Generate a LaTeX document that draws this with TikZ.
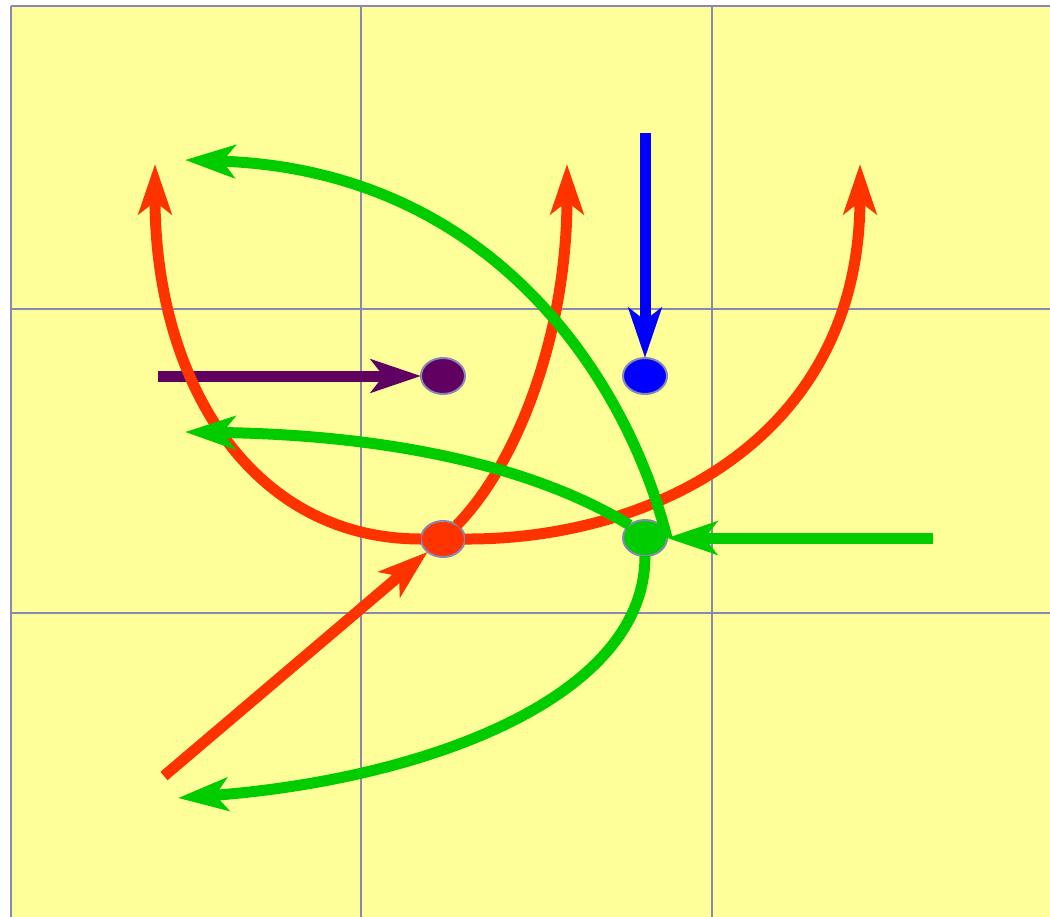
\documentclass[tikz,border=0pt]{standalone}
\usetikzlibrary{arrows.meta,shapes.geometric}
\definecolor{bgyellow}{RGB}{255,255,153}
\definecolor{gridc}{RGB}{136,136,180}
\definecolor{myred}{RGB}{255,51,0}
\definecolor{mygreen}{RGB}{0,204,0}
\definecolor{mypurple}{RGB}{96,0,96}
\definecolor{myblue}{RGB}{0,0,255}
\begin{document}
\begin{tikzpicture}[x=0.02cm,y=-0.02cm,
  dot/.style={ellipse, minimum width=0.88cm, minimum height=0.72cm, inner sep=0pt, outer sep=0pt, draw=gridc, line width=0.04cm},
  gridline/.style={draw=gridc, line width=0.05cm},
  fatarrow/.style={line width=0.22cm, -{Stealth[length=1cm,width=0.66cm,inset=0.25cm]}}]
\useasboundingbox (0,0) rectangle (1050,916);
\clip (0,0) rectangle (1050,916);
\fill[bgyellow] (11,6) rectangle (1060,930);
\foreach \gx in {11,361,712} \draw[gridline] (\gx,6) -- (\gx,930);
\foreach \gy in {6,309,613} \draw[gridline] (11,\gy) -- (1060,\gy);
% nodes
\node[dot, fill=mypurple] (p) at (443,376) {};
\node[dot, fill=myblue] (b) at (645,376) {};
\node[dot, fill=myred] (r) at (443,539) {};
\node[dot, fill=mygreen] (g) at (645,538) {};
% free ends
\coordinate (ps) at (158,376);
\coordinate (bs) at (645,133);
\coordinate (gs) at (933,538);
\coordinate (rs) at (164,776);
\coordinate (r1) at (155,164);
\coordinate (r2) at (567,164);
\coordinate (r3) at (860,164);
\coordinate (g1) at (185,160);
\coordinate (g2) at (185,432);
\coordinate (g3) at (178,798);
% straight arrows
\draw[fatarrow, mypurple] (ps) -- (p.west);
\draw[fatarrow, myblue] (bs) -- (b.north);
\draw[fatarrow, mygreen] (gs) -- (g.east);
\draw[fatarrow, myred] (rs) -- (r.-140);
% red curves
\draw[fatarrow, myred] (r.west) .. controls (250,539) and (155,380) .. (r1);
\draw[fatarrow, myred] (r.45) .. controls (520,460) and (567,330) .. (r2);
\draw[fatarrow, myred] (r.east) .. controls (650,540) and (860,440) .. (r3);
% green curves
\draw[fatarrow, mygreen] (g.east) .. controls (630,390) and (500,170) .. (g1);
\draw[fatarrow, mygreen] (g.140) .. controls (540,470) and (400,435) .. (g2);
\draw[fatarrow, mygreen] (g.south) .. controls (645,700) and (420,780) .. (g3);
\end{tikzpicture}
\end{document}
